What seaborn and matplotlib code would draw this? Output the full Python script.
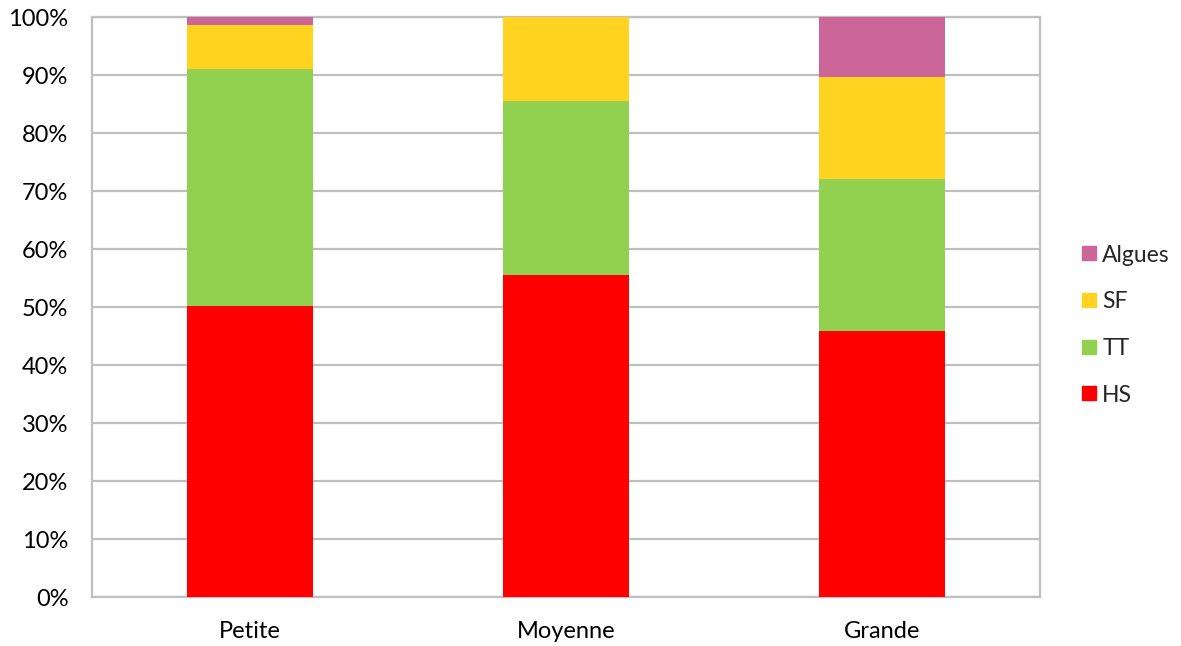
import matplotlib
matplotlib.use("Agg")
import matplotlib.pyplot as plt
from matplotlib.lines import Line2D
import seaborn as sns
import numpy as np

categories = ["Petite", "Moyenne", "Grande"]
series_names = ["HS", "TT", "SF", "Algues"]
hs = [50.25, 55.5, 45.8]
tt = [40.75, 30.0, 26.2]
sf = [7.7, 14.5, 17.7]
algues = [1.3, 0.0, 10.3]
colors = ["#FF0000", "#92D050", "#FFD320", "#CC6699"]
yticks = [0, 10, 20, 30, 40, 50, 60, 70, 80, 90, 100]

sns.set_theme(style="white")
plt.rcParams['font.family'] = ['Lato', 'DejaVu Sans']

fig = plt.figure(figsize=(11.81, 6.46), dpi=100)
ax = fig.add_axes([92/1181, 1 - 597/646, (1040-92)/1181, (597-17)/646])

values = [hs, tt, sf, algues]
bottom = np.zeros(len(categories))
for name, vals, col in zip(series_names, values, colors):
    sns.barplot(x=categories, y=vals, bottom=bottom, color=col, ax=ax,
                width=0.4, saturation=1, linewidth=0, zorder=3, order=categories)
    bottom = bottom + np.array(vals)

ax.set_xlim(-0.5, 2.5)
ax.set_ylim(0, 100)
ax.set_yticks(yticks)
ax.set_yticklabels([f"{v}%" for v in yticks])
ax.yaxis.grid(True, color="#BFBFBF", linewidth=1.6, zorder=0)
ax.set_axisbelow(True)
for s in ax.spines.values():
    s.set_visible(True)
    s.set_color("#BFBFBF")
    s.set_linewidth(1.6)
ax.tick_params(axis="both", labelsize=17, colors="black", length=0)
ax.tick_params(axis="y", pad=17)
ax.tick_params(axis="x", pad=17)
ax.set_xlabel("")
ax.set_ylabel("")

handles = [Line2D([0], [0], marker="s", linestyle="none", markersize=10.5,
                  markerfacecolor=c, markeredgecolor=c) for c in colors]
leg = fig.legend(handles[::-1], series_names[::-1], loc="center left",
                 bbox_to_anchor=(1068/1181, 1 - 325/646), frameon=False,
                 fontsize=16.5, labelspacing=1.12, handletextpad=0.1,
                 handlelength=1.0, borderaxespad=0)

fig.savefig("out.png", dpi=100)
